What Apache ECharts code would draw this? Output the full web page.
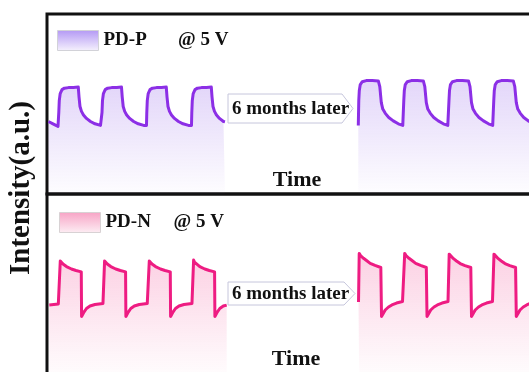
<!DOCTYPE html>
<html>
<head>
<meta charset="utf-8">
<script src="https://cdn.jsdelivr.net/npm/echarts@6/dist/echarts.min.js"></script>
<style>
  html, body { margin: 0; padding: 0; background: #fff; }
  #chart { width: 529px; height: 372px; }
</style>
</head>
<body>
<div id="chart"></div>
<script>
const panelNames = ['PD-P', 'PD-N']
const biasLabel = '@ 5 V'
const gapLabel = '6 months later'
const xName = 'Time'
const yName = 'Intensity(a.u.)'

// [time, intensity] pairs (arbitrary units)
const pdpBefore = [
  [0.34, 40.3], [1.36, 39.0], [2.5, 37.6],
  [2.68, 45.3], [2.79, 51.9], [3.0, 55.8], [3.41, 58.0], [3.97, 58.8], [4.88, 59.1], [6.02, 59.2], [7.11, 59.4],
  [7.27, 54.1], [7.5, 48.6], [7.84, 45.9], [8.29, 43.9], [8.97, 42.0], [9.88, 40.3], [10.91, 39.0], [12.16, 38.1],
  [12.43, 38.1], [12.5, 45.3], [12.61, 51.9], [12.82, 55.8], [13.23, 58.0], [13.79, 58.8], [14.7, 59.1], [15.84, 59.2], [16.93, 59.4],
  [17.09, 54.1], [17.32, 48.6], [17.66, 45.9], [18.11, 43.9], [18.79, 42.0], [19.7, 40.3], [20.73, 39.0], [21.98, 38.1],
  [22.61, 38.1], [22.68, 45.3], [22.79, 51.9], [23.0, 55.8], [23.41, 58.0], [23.97, 58.8], [24.88, 59.1], [26.02, 59.2], [27.11, 59.4],
  [27.27, 54.1], [27.5, 48.6], [27.84, 45.9], [28.29, 43.9], [28.97, 42.0], [29.88, 40.3], [30.91, 39.0], [32.16, 38.1],
  [32.84, 38.1], [32.91, 45.3], [33.02, 51.9], [33.23, 55.8], [33.64, 58.0], [34.2, 58.8], [35.11, 59.1], [36.25, 59.2], [37.34, 59.4],
  [37.5, 54.1], [37.73, 48.6], [38.07, 45.9], [38.52, 43.9], [39.2, 42.0], [40.11, 40.3], [40.45, 40.1]
]
const pdpAfter = [
  [70.75, 38.1], [70.86, 51.9], [70.98, 57.5], [71.2, 60.8], [71.66, 62.4], [72.57, 63.0], [73.93, 63.0], [75.3, 62.8],
  [75.64, 59.7], [75.98, 50.8], [76.32, 47.2], [76.89, 44.8], [77.68, 42.5], [78.7, 40.6], [79.84, 39.0], [80.86, 38.1],
  [80.98, 38.1], [81.09, 51.9], [81.21, 57.5], [81.43, 60.8], [81.89, 62.4], [82.8, 63.0], [84.16, 63.0], [85.53, 62.8],
  [85.87, 59.7], [86.21, 50.8], [86.55, 47.2], [87.12, 44.8], [87.91, 42.5], [88.93, 40.6], [90.07, 39.0], [91.09, 38.1],
  [91.25, 38.1], [91.36, 51.9], [91.48, 57.5], [91.7, 60.8], [92.16, 62.4], [93.07, 63.0], [94.43, 63.0], [95.8, 62.8],
  [96.14, 59.7], [96.48, 50.8], [96.82, 47.2], [97.39, 44.8], [98.18, 42.5], [99.2, 40.6], [100.34, 39.0], [101.3, 38.1],
  [101.43, 38.1], [101.54, 51.9], [101.66, 57.5], [101.88, 60.8], [102.34, 62.4], [103.25, 63.0], [104.61, 63.0], [105.98, 62.8],
  [106.32, 59.7], [106.66, 50.8], [107.0, 47.2], [107.57, 44.8], [108.36, 42.5], [109.38, 40.6], [110.52, 39.0], [111.5, 38.4]
]
const pdnBefore = [
  [0.52, 41.0], [2.57, 41.5], [2.95, 41.5],
  [3.02, 64.4], [3.22, 63.6], [3.63, 62.8], [4.43, 61.4], [5.56, 60.1], [6.59, 59.3], [7.79, 58.6],
  [7.86, 34.8], [8.06, 35.1], [8.4, 37.2], [8.97, 39.1], [9.77, 40.4], [10.9, 41.2], [12.72, 41.8],
  [13.02, 41.8], [13.09, 64.4], [13.29, 63.6], [13.7, 62.8], [14.5, 61.4], [15.63, 60.1], [16.66, 59.3], [17.86, 58.6],
  [17.93, 34.8], [18.13, 35.1], [18.47, 37.2], [19.04, 39.1], [19.84, 40.4], [20.97, 41.2], [22.79, 41.8],
  [23.18, 41.8], [23.25, 64.4], [23.45, 63.6], [23.86, 62.8], [24.66, 61.4], [25.79, 60.1], [26.82, 59.3], [28.02, 58.6],
  [28.09, 34.8], [28.29, 35.1], [28.63, 37.2], [29.2, 39.1], [30.0, 40.4], [31.13, 41.2], [32.95, 41.8],
  [33.25, 41.8], [33.32, 64.9], [33.52, 63.8], [33.93, 62.8], [34.73, 61.4], [35.86, 60.1], [36.89, 59.3], [38.09, 58.6],
  [38.16, 34.8], [38.36, 35.1], [38.7, 37.2], [39.27, 39.1], [40.07, 40.4], [40.84, 40.9]
]
const pdnAfter = [
  [70.8, 42.6], [70.96, 68.4], [71.25, 67.3], [71.94, 65.8], [72.62, 64.6], [73.46, 63.1], [74.55, 62.0], [75.87, 60.9],
  [76.03, 34.8], [76.25, 35.6], [76.87, 38.3], [77.62, 39.9], [78.39, 41.0], [79.44, 42.0], [80.8, 42.8],
  [81.14, 42.8], [81.3, 68.4], [81.59, 67.3], [82.28, 65.8], [82.96, 64.6], [83.8, 63.1], [84.89, 62.0], [86.21, 60.9],
  [86.37, 34.8], [86.59, 35.6], [87.21, 38.3], [87.96, 39.9], [88.73, 41.0], [89.78, 42.0], [91.14, 42.8],
  [91.25, 42.8], [91.41, 68.0], [91.7, 67.0], [92.39, 65.6], [93.07, 64.4], [93.91, 63.0], [95.0, 61.9], [96.32, 60.9],
  [96.48, 34.8], [96.7, 35.6], [97.32, 38.3], [98.07, 39.9], [98.84, 41.0], [99.89, 42.0], [101.25, 42.8],
  [101.43, 42.8], [101.59, 68.0], [101.88, 67.0], [102.57, 65.6], [103.25, 64.4], [104.09, 63.0], [105.18, 61.9], [106.5, 60.9],
  [106.66, 34.8], [106.88, 35.6], [107.5, 38.3], [108.25, 39.9], [109.02, 41.0], [110.07, 42.0], [111.5, 42.6]
]

const purple = '#8c2fe6'
const pink = '#ee1c82'
const serif = "'Liberation Serif', 'Times New Roman', serif"

const chart = echarts.init(document.getElementById('chart'))

// vertical fade, top colour -> bottom colour
const fade = (top, bottom) => new echarts.graphic.LinearGradient(0, 0, 0, 1, [
  { offset: 0, color: top },
  { offset: 1, color: bottom }
])

const trace = (name, data, color, fill, i) => ({
  name,
  type: 'line',
  xAxisIndex: i,
  yAxisIndex: i,
  data,
  symbol: 'none',
  lineStyle: { color, width: 3, join: 'round' },
  itemStyle: { color },
  areaStyle: { color: fill },
  emphasis: { disabled: true }
})

const axisOff = { show: false }
const legendText = { fontFamily: serif, fontWeight: 'bold', fontSize: 19, color: '#111' }

const arrowBox = (top, bottom, tipX) => {
  const mid = (top + bottom) / 2
  return [
    {
      type: 'polygon',
      shape: { points: [[228, top], [tipX - 11, top], [tipX, mid], [tipX - 11, bottom], [228, bottom]] },
      style: { fill: '#fff', stroke: '#c6c6dc', lineWidth: 1 }
    },
    {
      type: 'text', x: 232, y: mid + 0.5,
      style: { text: gapLabel, fontFamily: serif, fontWeight: 'bold', fontSize: 19, fill: '#111', align: 'left', verticalAlign: 'middle' }
    }
  ]
}

// the frame runs off the right and bottom edge of the picture
const panel = (top, height) => ({
  left: 47, top, width: 500, height,
  outerBoundsMode: 'none',
  show: true, borderColor: '#111', borderWidth: 3
})

const option = {
  animation: false,
  grid: [panel(14, 180), panel(194, 188)],
  xAxis: [
    { type: 'value', gridIndex: 0, min: 0, max: 113.64, ...axisOff },
    { type: 'value', gridIndex: 1, min: 0, max: 113.64, ...axisOff }
  ],
  yAxis: [
    { type: 'value', gridIndex: 0, min: 0, max: 100, ...axisOff },
    { type: 'value', gridIndex: 1, min: 0, max: 100, ...axisOff }
  ],
  legend: [
    {
      left: 57, top: 30, padding: 0, icon: 'rect', itemWidth: 41, itemHeight: 20, selectedMode: false,
      textStyle: legendText,
      data: [{ name: panelNames[0], itemStyle: { color: fade('#b398f4', '#f6f2fd'), borderColor: '#d2d2d8', borderWidth: 1 } }]
    },
    {
      left: 59, top: 212, padding: 0, icon: 'rect', itemWidth: 41, itemHeight: 20, selectedMode: false,
      textStyle: legendText,
      data: [{ name: panelNames[1], itemStyle: { color: fade('#f7a3c5', '#fdeef4'), borderColor: '#d8d2d4', borderWidth: 1 } }]
    }
  ],
  series: [
    trace(panelNames[0], pdpBefore, purple, fade('rgba(160,118,236,0.42)', 'rgba(160,118,236,0.02)'), 0),
    trace(panelNames[0], pdpAfter, purple, fade('rgba(160,118,236,0.42)', 'rgba(160,118,236,0.02)'), 0),
    trace(panelNames[1], pdnBefore, pink, fade('rgba(242,84,152,0.38)', 'rgba(242,84,152,0.0)'), 1),
    trace(panelNames[1], pdnAfter, pink, fade('rgba(242,84,152,0.38)', 'rgba(242,84,152,0.0)'), 1)
  ],
  graphic: [
    {
      type: 'text', x: 21.5, y: 188, rotation: Math.PI / 2,
      style: { text: yName, fontFamily: serif, fontWeight: 'bold', fontSize: 29, fill: '#111', align: 'center', verticalAlign: 'middle' }
    },
    {
      type: 'text', x: 178, y: 40.5,
      style: { text: biasLabel, fontFamily: serif, fontWeight: 'bold', fontSize: 19, fill: '#111', align: 'left', verticalAlign: 'middle' }
    },
    {
      type: 'text', x: 173.5, y: 222.5,
      style: { text: biasLabel, fontFamily: serif, fontWeight: 'bold', fontSize: 19, fill: '#111', align: 'left', verticalAlign: 'middle' }
    },
    {
      type: 'text', x: 297, y: 180,
      style: { text: xName, fontFamily: serif, fontWeight: 'bold', fontSize: 22, fill: '#111', align: 'center', verticalAlign: 'middle' }
    },
    {
      type: 'text', x: 296, y: 359.5,
      style: { text: xName, fontFamily: serif, fontWeight: 'bold', fontSize: 22, fill: '#111', align: 'center', verticalAlign: 'middle' }
    },
    ...arrowBox(94, 123, 353),
    ...arrowBox(282, 305, 355)
  ]
}

chart.setOption(option)
window.addEventListener('resize', () => chart.resize())
</script>
</body>
</html>
